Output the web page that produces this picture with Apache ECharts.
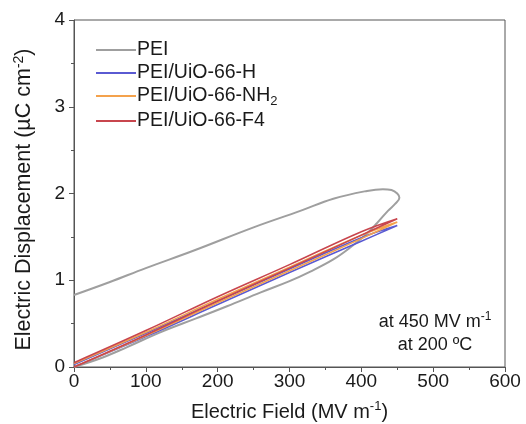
<!DOCTYPE html>
<html>
<head>
<meta charset="utf-8">
<script src="https://cdn.jsdelivr.net/npm/echarts@6/dist/echarts.min.js"></script>
<style>
  html, body { margin: 0; padding: 0; background: #fff; }
  #chart { width: 526px; height: 424px; }
</style>
</head>
<body>
<div id="chart"></div>
<script>
// D-E loops, E in MV/m, D in uC/cm2
const peiField = [0, 40, 74, 120, 170, 213, 260, 300, 329, 361, 385, 408, 422, 437, 447, 453,
  450, 442, 430, 408, 361, 315, 250, 166, 100, 50, 0]
const peiDisp = [0, 0.11, 0.23, 0.40, 0.56, 0.70, 0.86, 0.99, 1.10, 1.24, 1.38, 1.54, 1.66, 1.80, 1.88, 1.95,
  2.00, 2.04, 2.05, 2.03, 1.94, 1.80, 1.61, 1.34, 1.14, 0.98, 0.83]

const loopField = [0, 100, 200, 300, 400, 450, 400, 300, 200, 100, 0]
const hDisp = [0, 0.35, 0.72, 1.09, 1.45, 1.63, 1.49, 1.13, 0.76, 0.39, 0.03]
const nh2Disp = [0, 0.36, 0.74, 1.11, 1.48, 1.67, 1.52, 1.15, 0.78, 0.40, 0.04]
const f4Disp = [0, 0.37, 0.76, 1.14, 1.52, 1.71, 1.56, 1.18, 0.81, 0.42, 0.05]

const seriesNames = ['PEI', 'PEI/UiO-66-H', 'PEI/UiO-66-NH2', 'PEI/UiO-66-F4']
const seriesColors = ['#9f9f9f', '#5a5ad2', '#f4a24c', '#c8464e']
const xTicks = [0, 100, 200, 300, 400, 500, 600]
const yTicks = [0, 1, 2, 3, 4]

const pairs = (xs, ys) => xs.map((x, i) => [x, ys[i]])
const seriesData = [
  pairs(peiField, peiDisp),
  pairs(loopField, hDisp),
  pairs(loopField, nh2Disp),
  pairs(loopField, f4Disp)
]

const FONT = 'Liberation Sans, Arial, sans-serif'
const TEXT = '#1a1a1a'
const AXIS = '#555'

const titleRich = (size) => ({
  t: { fontSize: size, fontFamily: FONT, color: TEXT },
  sup: { fontSize: Math.round(size * 0.65), fontFamily: FONT, color: TEXT, padding: [0, 0, 11, 0] }
})

const chart = echarts.init(document.getElementById('chart'))

chart.setOption({
  animation: false,
  grid: {
    left: 74,
    right: 21,
    top: 20,
    bottom: 57,
    outerBoundsMode: 'none',
    containLabel: false,
    show: true,
    borderColor: AXIS,
    borderWidth: 1
  },
  legend: {
    orient: 'vertical',
    left: 91,
    top: 35,
    itemWidth: 40,
    itemHeight: 14,
    itemGap: 3,
    icon: 'path://M0,0 L40,0 L40,2 L0,2 Z',
    data: seriesNames,
    formatter: (name) => name === 'PEI/UiO-66-NH2' ? '{t|PEI/UiO-66-NH}{sub|2}' : `{t|${name}}`,
    textStyle: {
      fontFamily: FONT,
      color: TEXT,
      padding: [0, 0, 0, -4],
      rich: {
        t: { fontSize: 19.5, fontFamily: FONT, color: TEXT },
        sub: { fontSize: 13, fontFamily: FONT, color: TEXT, verticalAlign: 'bottom', padding: [11, 0, 0, 0] }
      }
    }
  },
  xAxis: {
    type: 'value',
    min: xTicks[0],
    max: xTicks[xTicks.length - 1],
    interval: 100,
    name: '{t|Electric Field (MV m}{sup|-1}{t|)}',
    nameLocation: 'middle',
    nameGap: 33,
    nameTextStyle: { rich: titleRich(20) },
    axisLine: { lineStyle: { color: AXIS } },
    axisTick: { inside: false, length: 5, lineStyle: { color: AXIS } },
    minorTick: { show: true, splitNumber: 2, length: 3, lineStyle: { color: AXIS } },
    splitLine: { show: false },
    axisLabel: { fontSize: 19, fontFamily: FONT, color: TEXT, margin: 5 }
  },
  yAxis: {
    type: 'value',
    min: yTicks[0],
    max: yTicks[yTicks.length - 1],
    interval: 1,
    name: '{t|Electric Displacement (µC cm}{sup|-2}{t|)}',
    nameLocation: 'middle',
    nameGap: 37,
    nameRotate: 90,
    nameTextStyle: { rich: titleRich(21.5), padding: [0, 12, 0, 0] },
    axisLine: { show: true, lineStyle: { color: AXIS } },
    axisTick: { show: true, inside: false, length: 5, lineStyle: { color: AXIS } },
    minorTick: { show: true, splitNumber: 2, length: 3, lineStyle: { color: AXIS } },
    splitLine: { show: false },
    axisLabel: { fontSize: 19, fontFamily: FONT, color: TEXT, margin: 9 }
  },
  series: seriesNames.map((name, i) => ({
    name,
    type: 'line',
    data: seriesData[i],
    smooth: 0.4,
    symbol: 'none',
    lineStyle: { width: i === 0 ? 2 : 1.6, color: seriesColors[i] },
    itemStyle: { color: seriesColors[i] },
    z: 2 + i
  })),
  graphic: [{
    type: 'text',
    x: 435,
    y: 322,
    style: {
      text: '{t|at 450 MV m}{sup|-1}',
      align: 'center',
      verticalAlign: 'middle',
      rich: {
        t: { fontSize: 18, fontFamily: FONT, fill: TEXT },
        sup: { fontSize: 12, fontFamily: FONT, fill: TEXT, padding: [0, 0, 10, 0] }
      }
    }
  }, {
    type: 'text',
    x: 435,
    y: 345,
    style: {
      text: 'at 200 ºC',
      align: 'center',
      verticalAlign: 'middle',
      fontSize: 18,
      fontFamily: FONT,
      fill: TEXT
    }
  }]
})
</script>
</body>
</html>
